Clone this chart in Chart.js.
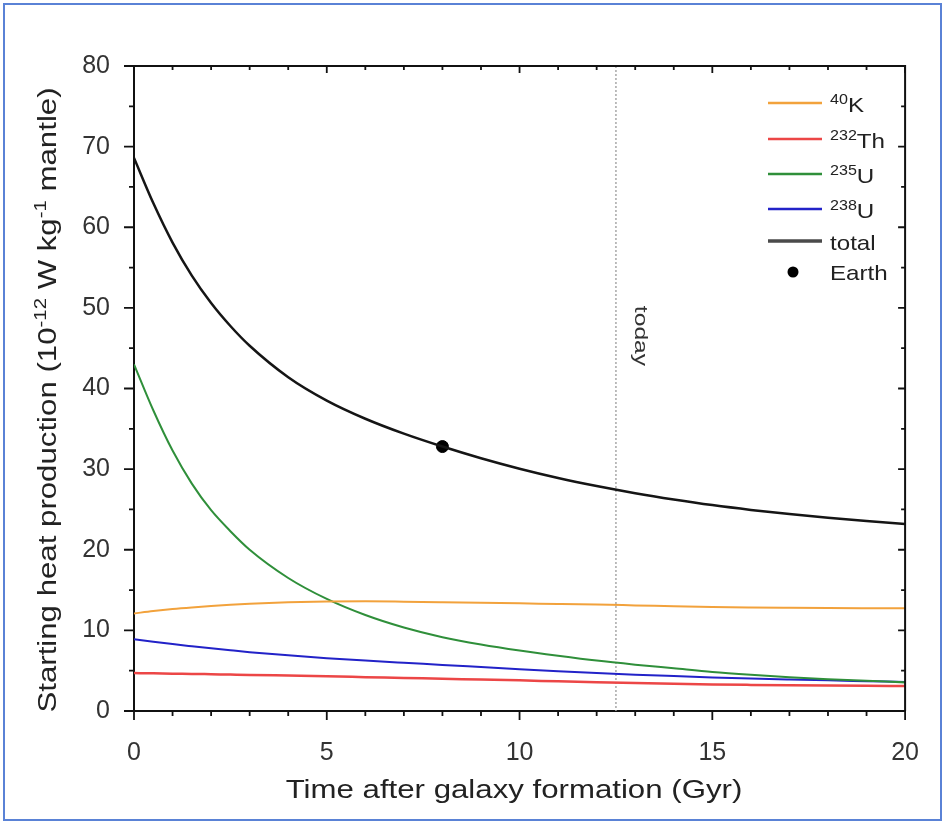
<!DOCTYPE html>
<html>
<head>
<meta charset="utf-8">
<script src="https://cdn.jsdelivr.net/npm/chart.js@4.4.1/dist/chart.umd.min.js"></script>
<style>
    body { margin: 0; background: #fff; }
    #wrap { position: relative; width: 946px; height: 824px; }
    #frame {
        position: absolute; left: 3px; top: 3px; width: 935px; height: 814px;
        border: 2px solid #5a82d6; pointer-events: none;
    }
</style>
</head>
<body>
<div id="wrap">
    <canvas id="heatChart" width="946" height="824"></canvas>
    <div id="frame"></div>
</div>
<script>
// Tiempo después de la formación de la galaxia (Gyr)
const times = [0, 0.5, 1, 1.5, 2, 2.5, 3, 4, 5, 6, 7, 8, 9, 10, 11, 12, 13, 14, 15, 16, 17, 18, 19, 20];

// Producción de calor (10^-12 W/kg manto)
const k40   = [12.1, 12.4, 12.65, 12.85, 13.02, 13.17, 13.3, 13.48, 13.58, 13.6, 13.56, 13.5, 13.43, 13.35, 13.28, 13.2, 13.1, 13.0, 12.9, 12.84, 12.8, 12.77, 12.75, 12.74];
const th232 = [4.7, 4.67, 4.63, 4.6, 4.56, 4.52, 4.48, 4.39, 4.3, 4.2, 4.1, 4.0, 3.9, 3.8, 3.68, 3.57, 3.47, 3.38, 3.3, 3.24, 3.19, 3.15, 3.12, 3.1];
const u235  = [43.0, 37.3, 32.3, 28.2, 24.9, 22.3, 20.0, 16.5, 13.9, 11.9, 10.35, 9.15, 8.25, 7.5, 6.85, 6.25, 5.75, 5.3, 4.85, 4.5, 4.2, 3.95, 3.75, 3.55];
const u238  = [8.9, 8.6, 8.3, 8.03, 7.77, 7.53, 7.3, 6.9, 6.55, 6.25, 5.98, 5.72, 5.45, 5.18, 4.93, 4.7, 4.5, 4.33, 4.17, 4.03, 3.91, 3.8, 3.7, 3.6];
const total = [68.6, 63.0, 58.1, 54.0, 50.6, 47.75, 45.3, 41.4, 38.5, 36.25, 34.4, 32.8, 31.35, 30.05, 28.9, 27.9, 27.02, 26.24, 25.54, 24.94, 24.42, 23.96, 23.56, 23.2];

const earthPoint = [{x: 8, y: 32.8}];
const todayAge = 12.5;

const xTicks = [0, 5, 10, 15, 20];
const yTicks = [0, 10, 20, 30, 40, 50, 60, 70, 80];

const series = [
    {label: '40K',   iso: '40',  el: 'K',  values: k40,   color: '#f2a23c', width: 2},
    {label: '232Th', iso: '232', el: 'Th', values: th232, color: '#ec4646', width: 2.5},
    {label: '235U',  iso: '235', el: 'U',  values: u235,  color: '#2f8f3a', width: 2},
    {label: '238U',  iso: '238', el: 'U',  values: u238,  color: '#2222c8', width: 2},
    {label: 'total', iso: '',    el: 'total', values: total, color: '#151515', width: 2.5}
];

const FONT = '"Liberation Sans", Arial, sans-serif';

// texto con superíndices, estirado a lo largo de la dirección del texto
function richWidth(ctx, parts, size, sx) {
    let w = 0;
    parts.forEach(p => {
        ctx.font = (p.sup ? Math.round(size * 0.65) : size) + 'px ' + FONT;
        w += ctx.measureText(p.t).width;
    });
    return w * sx;
}

function drawRich(ctx, parts, x, y, size, sx) {
    ctx.save();
    ctx.translate(x, y);
    ctx.scale(sx, 1);
    let cx = 0;
    parts.forEach(p => {
        const s = p.sup ? Math.round(size * 0.65) : size;
        ctx.font = s + 'px ' + FONT;
        ctx.fillText(p.t, cx, p.sup ? -size * 0.4 : 0);
        cx += ctx.measureText(p.t).width;
    });
    ctx.restore();
}

const decorPlugin = {
    id: 'decor',
    beforeDatasetsDraw(chart) {
        const ctx = chart.ctx;
        const area = chart.chartArea;
        const px = chart.scales.x.getPixelForValue(todayAge);
        ctx.save();
        ctx.strokeStyle = '#a8a8a8';
        ctx.lineWidth = 1.5;
        ctx.setLineDash([2, 2]);
        ctx.beginPath();
        ctx.moveTo(px, area.top);
        ctx.lineTo(px, area.bottom);
        ctx.stroke();
        ctx.setLineDash([]);

        // etiqueta "today"
        ctx.translate(635, 336);
        ctx.rotate(Math.PI / 2);
        ctx.scale(1.3, 1);
        ctx.fillStyle = '#333';
        ctx.font = '19px ' + FONT;
        ctx.textAlign = 'center';
        ctx.textBaseline = 'alphabetic';
        ctx.fillText('today', 0, 0);
        ctx.restore();
    },
    afterDraw(chart) {
        const ctx = chart.ctx;
        const area = chart.chartArea;
        const xs = chart.scales.x;
        const ys = chart.scales.y;
        ctx.save();
        ctx.strokeStyle = '#111';
        ctx.lineWidth = 2;

        // marco superior y derecho
        ctx.beginPath();
        ctx.moveTo(area.left - 1, area.top);
        ctx.lineTo(area.right, area.top);
        ctx.lineTo(area.right, area.bottom);
        ctx.stroke();

        ctx.lineWidth = 1.8;
        ctx.beginPath();
        for (let v = 0; v <= 20; v++) {
            const p = xs.getPixelForValue(v);
            const major = v % 5 === 0;
            ctx.moveTo(p, area.bottom);
            ctx.lineTo(p, area.bottom + (major ? 9 : 5));
            ctx.moveTo(p, area.top);
            ctx.lineTo(p, area.top + (major ? 7 : 4));
        }
        for (let v = 0; v <= 80; v += 5) {
            const p = ys.getPixelForValue(v);
            const major = v % 10 === 0;
            ctx.moveTo(area.left, p);
            ctx.lineTo(area.left - (major ? 10 : 5), p);
            ctx.moveTo(area.right, p);
            ctx.lineTo(area.right - (major ? 7 : 4), p);
        }
        ctx.stroke();

        // títulos de los ejes
        ctx.fillStyle = '#222';
        ctx.textBaseline = 'alphabetic';
        const xTitle = [{t: 'Time after galaxy formation (Gyr)'}];
        const xw = richWidth(ctx, xTitle, 26, 1.2);
        drawRich(ctx, xTitle, 514 - xw / 2, 798, 26, 1.2);

        const yTitle = [
            {t: 'Starting heat production (10'},
            {t: '-12', sup: true},
            {t: ' W kg'},
            {t: '-1', sup: true},
            {t: ' mantle)'}
        ];
        const yw = richWidth(ctx, yTitle, 26, 1.2);
        ctx.save();
        ctx.translate(56, 400);
        ctx.rotate(-Math.PI / 2);
        drawRich(ctx, yTitle, -yw / 2, 0, 26, 1.2);
        ctx.restore();

        // leyenda
        const rows = [103, 139, 174, 209, 241];
        series.forEach((s, i) => {
            const y = rows[i];
            ctx.strokeStyle = i === 4 ? '#4a4a4a' : s.color;
            ctx.lineWidth = i === 4 ? 3.5 : 2.5;
            ctx.beginPath();
            ctx.moveTo(768, y);
            ctx.lineTo(822, y);
            ctx.stroke();
            ctx.fillStyle = '#222';
            const parts = s.iso ? [{t: s.iso, sup: true}, {t: s.el}] : [{t: s.el}];
            drawRich(ctx, parts, 830, y + 9, 21, 1.15);
        });
        ctx.fillStyle = '#000';
        ctx.beginPath();
        ctx.arc(793, 272, 5.5, 0, Math.PI * 2);
        ctx.fill();
        ctx.fillStyle = '#222';
        drawRich(ctx, [{t: 'Earth'}], 830, 280, 21, 1.15);
        ctx.restore();
    }
};

const datasets = series.map(s => ({
    label: s.label,
    data: times.map((t, i) => ({x: t, y: s.values[i]})),
    borderColor: s.color,
    backgroundColor: s.color,
    borderWidth: s.width,
    pointRadius: 0,
    cubicInterpolationMode: 'monotone',
    fill: false
}));
datasets.push({
    label: 'Earth',
    data: earthPoint,
    showLine: false,
    pointRadius: 6,
    pointBackgroundColor: '#000',
    pointBorderColor: '#000'
});

new Chart(document.getElementById('heatChart'), {
    type: 'line',
    data: {datasets},
    plugins: [decorPlugin],
    options: {
        responsive: false,
        animation: false,
        layout: {padding: {top: 66, right: 40, left: 0, bottom: 0}},
        plugins: {legend: {display: false}, tooltip: {enabled: false}},
        scales: {
            x: {
                type: 'linear',
                min: 0,
                max: 20,
                afterBuildTicks: axis => { axis.ticks = xTicks.map(v => ({value: v})); },
                afterFit: axis => { axis.height = 113; },
                grid: {display: false, drawTicks: false, tickLength: 0},
                border: {display: true, color: '#111', width: 2},
                ticks: {color: '#333', padding: 27, font: {family: FONT, size: 25}, maxRotation: 0}
            },
            y: {
                type: 'linear',
                min: 0,
                max: 80,
                afterBuildTicks: axis => { axis.ticks = yTicks.map(v => ({value: v})); },
                afterFit: axis => { axis.width = 134; },
                grid: {display: false, drawTicks: false, tickLength: 0},
                border: {display: true, color: '#111', width: 2},
                ticks: {color: '#333', padding: 24, font: {family: FONT, size: 25}}
            }
        }
    }
});
</script>
</body>
</html>
